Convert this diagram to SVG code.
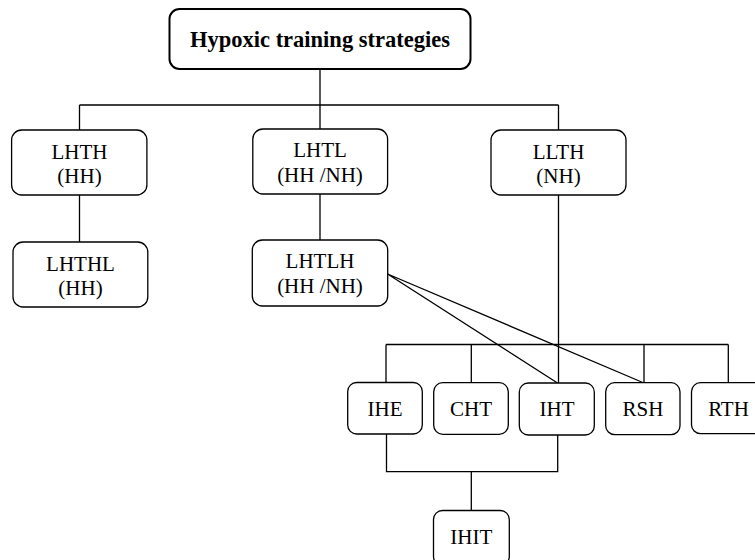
<svg xmlns="http://www.w3.org/2000/svg" width="755" height="560" viewBox="0 0 755 560">
<style>
.box{fill:#fff;stroke:#000;stroke-width:1.3}
.root{fill:#fff;stroke:#000;stroke-width:2}
.t{font-family:"Liberation Serif","Times New Roman",serif;font-size:21px;text-anchor:middle;fill:#000}
.tb{font-family:"Liberation Serif","Times New Roman",serif;font-size:22.5px;font-weight:bold;text-anchor:middle;fill:#000}
.c{fill:none;stroke:#000;stroke-width:1.3}
</style>
<rect width="755" height="560" fill="#fff"/>
<g id="connectors">
<path class="c" d="M320 69V105M79.5 105H558.5M79.5 105V130M320 105V129M558.5 105V130"/>
<path class="c" d="M79.5 195V242M320 194V240"/>
<path class="c" d="M558.5 195V383M386 344.5H728.3M386 344.5V382.5M471.3 344.5V382.5M644 344.5V382.5M728.3 344.5V382.5"/>
<path class="c" d="M387.6 274L557.5 383M387.6 274L644 383"/>
<path class="c" d="M386.5 434V471.7H557.7V435M471.3 471.7V510.5"/>
</g>
<g id="root"><rect class="root" x="169.5" y="9" width="301" height="60" rx="10"/><text class="tb" x="320" y="47">Hypoxic training strategies</text></g>
<g id="lhth"><rect class="box" x="11.6" y="130" width="135.3" height="65" rx="10"/><text class="t" x="79.5" y="158.5">LHTH</text><text class="t" x="79.5" y="183">(HH)</text></g>
<g id="lhtl"><rect class="box" x="252.8" y="129" width="134.8" height="65" rx="10"/><text class="t" x="320" y="157">LHTL</text><text class="t" x="320" y="182">(HH /NH)</text></g>
<g id="llth"><rect class="box" x="491" y="130" width="135" height="65" rx="10"/><text class="t" x="558.5" y="158.5">LLTH</text><text class="t" x="558.5" y="183">(NH)</text></g>
<g id="lhthl"><rect class="box" x="13" y="242" width="134.8" height="65" rx="10"/><text class="t" x="80.5" y="270.5">LHTHL</text><text class="t" x="80.5" y="295">(HH)</text></g>
<g id="lhtlh"><rect class="box" x="252.3" y="240" width="135.4" height="66" rx="10"/><text class="t" x="320" y="267.5">LHTLH</text><text class="t" x="320" y="293">(HH /NH)</text></g>
<g id="ihe"><rect class="box" x="347.7" y="382.5" width="74.6" height="51.5" rx="9"/><text class="t" x="385" y="415.5">IHE</text></g>
<g id="cht"><rect class="box" x="433.7" y="382.7" width="74.6" height="51.6" rx="9"/><text class="t" x="471" y="415.5">CHT</text></g>
<g id="iht"><rect class="box" x="519.3" y="383" width="75" height="52" rx="9"/><text class="t" x="557" y="415.5">IHT</text></g>
<g id="rsh"><rect class="box" x="605.7" y="382.7" width="74.3" height="52" rx="9"/><text class="t" x="643" y="415.5">RSH</text></g>
<g id="rth"><rect class="box" x="691.5" y="382.7" width="74.5" height="51" rx="9"/><text class="t" x="728.5" y="415.5">RTH</text></g>
<g id="ihit"><rect class="box" x="433.5" y="510.5" width="75.8" height="55" rx="9"/><text class="t" x="471.3" y="543.5">IHIT</text></g>
</svg>
